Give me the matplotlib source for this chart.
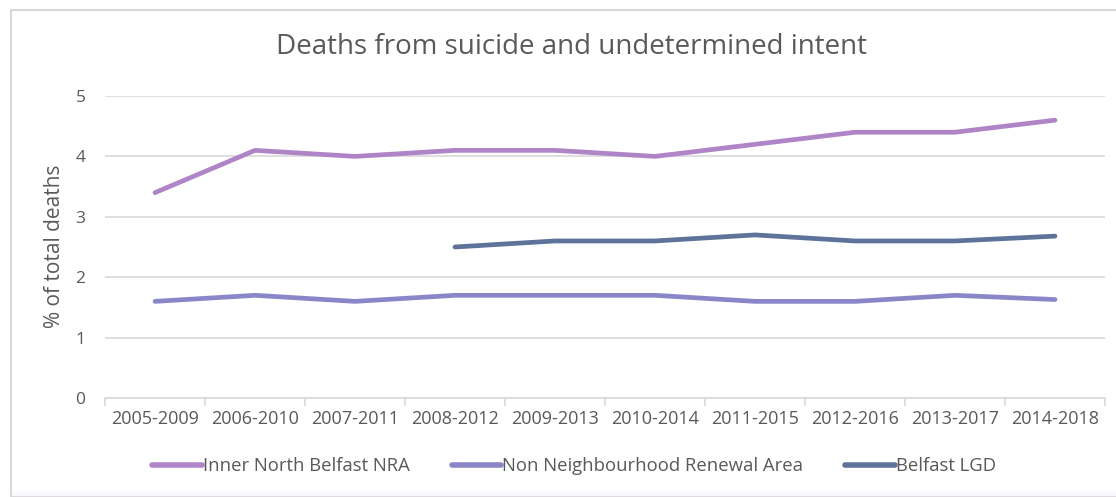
import matplotlib
matplotlib.use("Agg")
import matplotlib.pyplot as plt
import numpy as np
from matplotlib.patches import Rectangle

periods = ["2005-2009", "2006-2010", "2007-2011", "2008-2012", "2009-2013",
           "2010-2014", "2011-2015", "2012-2016", "2013-2017", "2014-2018"]
inner_north = [3.4, 4.1, 4.0, 4.1, 4.1, 4.0, 4.2, 4.4, 4.4, 4.6]
non_nra = [1.6, 1.7, 1.6, 1.7, 1.7, 1.7, 1.6, 1.6, 1.7, 1.63]
belfast_lgd = [np.nan, np.nan, np.nan, 2.5, 2.6, 2.6, 2.7, 2.6, 2.6, 2.68]
series_names = ["Inner North Belfast NRA", "Non Neighbourhood Renewal Area", "Belfast LGD"]
colors = ["#B085C8", "#8A87C8", "#5D7399"]

plt.rcParams['font.family'] = ['Open Sans', 'DejaVu Sans']

fig = plt.figure(figsize=(11.16, 4.97), dpi=100)
W, H = 1116, 497

# outer frame
fig.patches.append(Rectangle((11 / W, 0), 1.2, 1 - 10 / H, transform=fig.transFigure,
                             facecolor="white", edgecolor="#D9D9D9", linewidth=1.5, zorder=-5))
# light purple shading at bottom
for i, a in enumerate(np.linspace(0.04, 0.24, 8)):
    fig.patches.append(Rectangle((12 / W, (7 - i) / H), 1.0, 1 / H, transform=fig.transFigure,
                                 facecolor="#E8DDF3", alpha=a, edgecolor="none", zorder=-4))

ax = fig.add_axes([105 / W, 1 - 398 / H, 1000 / W, 302 / H])
ax.set_zorder(2)
x = np.arange(len(periods))
for vals, name, c in zip([inner_north, non_nra, belfast_lgd], series_names, colors):
    ax.plot(x, vals, color=c, linewidth=3.4, solid_capstyle="round", label=name, zorder=3)

ax.set_xlim(-0.5, len(periods) - 0.5)
ax.set_ylim(0, 5)
ax.set_yticks([0, 1, 2, 3, 4, 5])
ax.set_xticks(x)
ax.set_xticklabels(periods)
ax.grid(axis="y", color="#D9D9D9", linewidth=1.2)
ax.set_axisbelow(True)
for s in ["top", "right", "left"]:
    ax.spines[s].set_visible(False)
ax.spines["bottom"].set_color("#D9D9D9")
ax.spines["bottom"].set_linewidth(1.2)
ax.tick_params(axis="y", length=0, pad=14, labelsize=12.5, labelcolor="#595959")
ax.tick_params(axis="x", length=0, pad=9, labelsize=13, labelcolor="#595959")
# minor ticks at category boundaries
ax.set_xticks(np.arange(-0.5, len(periods), 1.0), minor=True)
ax.tick_params(axis="x", which="minor", length=6, color="#D9D9D9", width=1.2, direction="out")
ax.patch.set_alpha(0)

fig.text(55 / W, 1 - 246 / H, "% of total deaths", rotation=90, ha="center", va="center",
         fontsize=15, color="#595959")
fig.text(572 / W, 1 - 47 / H, "Deaths from suicide and undetermined intent",
         ha="center", va="center", fontsize=20, color="#595959")

leg = fig.legend(loc="center", bbox_to_anchor=(574 / W, 1 - 466 / H), ncol=3, frameon=False,
                 fontsize=13.3, handlelength=2.7, handletextpad=0.05, columnspacing=2.25,
                 labelcolor="#595959")
for line in leg.get_lines():
    line.set_linewidth(4)

fig.savefig("out.png", dpi=100)
